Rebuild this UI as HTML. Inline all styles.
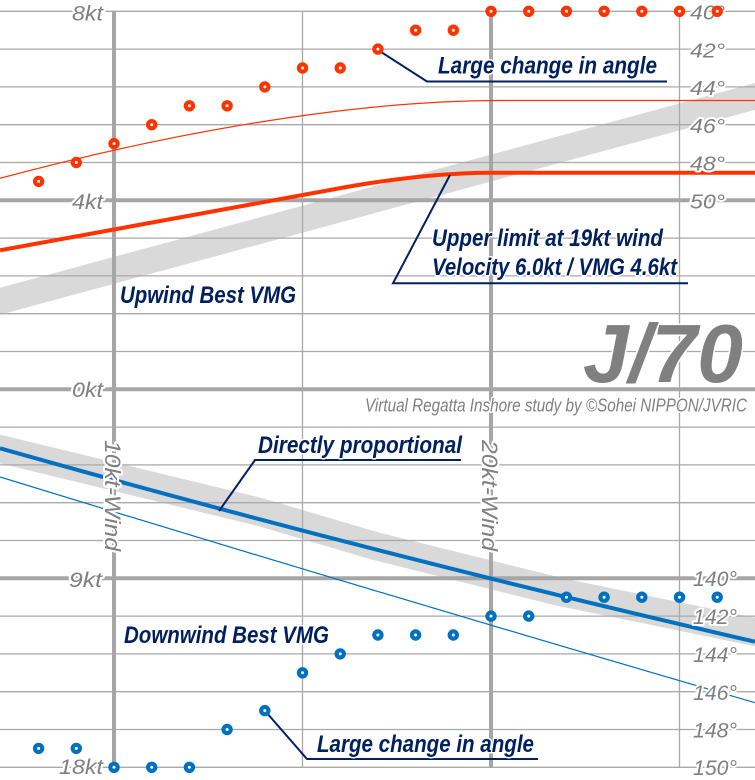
<!DOCTYPE html>
<html>
<head>
<meta charset="utf-8">
<style>
  html, body { margin: 0; padding: 0; background: #ffffff; }
  body { width: 755px; height: 780px; overflow: hidden; }
  svg { display: block; }
  .ax { font-family: "Liberation Sans", sans-serif; font-style: italic; fill: #808080;
        stroke: #ffffff; stroke-width: 4; paint-order: stroke; stroke-linejoin: round; }
  .an { font-family: "Liberation Sans", sans-serif; font-style: italic; font-weight: bold; fill: #002060;
        stroke: #ffffff; stroke-width: 3; paint-order: stroke; stroke-linejoin: round; }
</style>
</head>
<body>
<svg width="755" height="780" viewBox="0 0 755 780" xmlns="http://www.w3.org/2000/svg">
  <rect x="0" y="0" width="755" height="780" fill="#ffffff"/>

  <!-- grey reference bands -->
  <line x1="-5" y1="302.6" x2="760" y2="95.1" stroke="#d9d9d9" stroke-width="26"/>
  <path d="M-5,447.8 L260,512 L375,546 L560,592 L760,633" fill="none" stroke="#d9d9d9" stroke-width="28" stroke-linejoin="round"/>

  <!-- horizontal grid -->
  <g stroke="#a9a9a9" stroke-width="1.3">
    <line x1="0" y1="11.3" x2="755" y2="11.3"/>
    <line x1="0" y1="49.1" x2="755" y2="49.1"/>
    <line x1="0" y1="86.9" x2="755" y2="86.9"/>
    <line x1="0" y1="124.7" x2="755" y2="124.7"/>
    <line x1="0" y1="162.5" x2="755" y2="162.5"/>
    <line x1="0" y1="238.1" x2="755" y2="238.1"/>
    <line x1="0" y1="275.9" x2="755" y2="275.9"/>
    <line x1="0" y1="313.7" x2="755" y2="313.7"/>
    <line x1="0" y1="351.5" x2="755" y2="351.5"/>
    <line x1="0" y1="427.1" x2="755" y2="427.1"/>
    <line x1="0" y1="464.9" x2="755" y2="464.9"/>
    <line x1="0" y1="502.7" x2="755" y2="502.7"/>
    <line x1="0" y1="540.5" x2="755" y2="540.5"/>
    <line x1="0" y1="616.1" x2="755" y2="616.1"/>
    <line x1="0" y1="653.9" x2="755" y2="653.9"/>
    <line x1="0" y1="691.7" x2="755" y2="691.7"/>
    <line x1="0" y1="729.5" x2="755" y2="729.5"/>
    <line x1="0" y1="767.3" x2="755" y2="767.3"/>
  </g>
  <g stroke="#a6a6a6" stroke-width="4">
    <line x1="0" y1="200.3" x2="755" y2="200.3"/>
    <line x1="0" y1="389.3" x2="755" y2="389.3"/>
    <line x1="0" y1="578.3" x2="755" y2="578.3"/>
  </g>
  <!-- vertical grid -->
  <g stroke="#a9a9a9" stroke-width="1.3">
    <line x1="302.5" y1="11.3" x2="302.5" y2="767.3"/>
    <line x1="679.5" y1="11.3" x2="679.5" y2="767.3"/>
  </g>
  <g stroke="#a6a6a6" stroke-width="4">
    <line x1="114" y1="11.3" x2="114" y2="767.3"/>
    <line x1="491" y1="11.3" x2="491" y2="767.3"/>
  </g>

  <!-- upwind series -->
  <path d="M0,178.3 C150,138 340,100.5 500,100.5 L755,100.5" fill="none" stroke="#ff3300" stroke-width="1.2"/>
  <path d="M0,250.3 L330,190 Q420,173 490,172.7 L755,172.7" fill="none" stroke="#ff3300" stroke-width="4"/>

  <!-- downwind series -->
  <path d="M0,477 Q378,593 755,702.7" fill="none" stroke="#0070c0" stroke-width="1.2"/>
  <path d="M0,448.3 Q378,555 755,641.7" fill="none" stroke="#0070c0" stroke-width="4"/>

  <!-- axis labels left -->
  <text class="ax" x="72" y="20.7" font-size="21" textLength="31" lengthAdjust="spacingAndGlyphs">8kt</text>
  <text class="ax" x="72" y="209" font-size="21" textLength="31" lengthAdjust="spacingAndGlyphs">4kt</text>
  <text class="ax" x="72" y="397" font-size="21" textLength="31" lengthAdjust="spacingAndGlyphs">0kt</text>
  <text class="ax" x="69" y="587" font-size="21" textLength="33" lengthAdjust="spacingAndGlyphs">9kt</text>
  <text class="ax" x="59" y="774" font-size="21" textLength="44" lengthAdjust="spacingAndGlyphs">18kt</text>

  <!-- axis labels right top -->
  <text class="ax" x="690" y="19.5" font-size="20" textLength="35" lengthAdjust="spacingAndGlyphs">40°</text>
  <text class="ax" x="690" y="57.3" font-size="20" textLength="35" lengthAdjust="spacingAndGlyphs">42°</text>
  <text class="ax" x="690" y="95.1" font-size="20" textLength="35" lengthAdjust="spacingAndGlyphs">44°</text>
  <text class="ax" x="690" y="132.9" font-size="20" textLength="35" lengthAdjust="spacingAndGlyphs">46°</text>
  <text class="ax" x="690" y="170.7" font-size="20" textLength="35" lengthAdjust="spacingAndGlyphs">48°</text>
  <text class="ax" x="690" y="208.5" font-size="20" textLength="35" lengthAdjust="spacingAndGlyphs">50°</text>

  <!-- axis labels right bottom -->
  <text class="ax" x="693" y="586" font-size="21" textLength="44" lengthAdjust="spacingAndGlyphs">140°</text>
  <text class="ax" x="693" y="624" font-size="21" textLength="44" lengthAdjust="spacingAndGlyphs">142°</text>
  <text class="ax" x="693" y="662" font-size="21" textLength="44" lengthAdjust="spacingAndGlyphs">144°</text>
  <text class="ax" x="693" y="700" font-size="21" textLength="44" lengthAdjust="spacingAndGlyphs">146°</text>
  <text class="ax" x="693" y="737.5" font-size="21" textLength="44" lengthAdjust="spacingAndGlyphs">148°</text>
  <text class="ax" x="693" y="775" font-size="21" textLength="44" lengthAdjust="spacingAndGlyphs">150°</text>

  <!-- rotated wind labels -->
  <text class="ax" transform="translate(105,440) rotate(90)" x="0" y="0" font-size="22" textLength="111" lengthAdjust="spacingAndGlyphs">10kt-Wind</text>
  <text class="ax" transform="translate(482,440) rotate(90)" x="0" y="0" font-size="22" textLength="111" lengthAdjust="spacingAndGlyphs">20kt-Wind</text>

  <!-- J/70 and credit -->
  <text x="583" y="382" font-family="Liberation Sans, sans-serif" font-style="italic" font-weight="bold" font-size="83" fill="#808080" stroke="#ffffff" stroke-width="3" paint-order="stroke" textLength="160" lengthAdjust="spacingAndGlyphs">J/70</text>
  <text class="ax" x="365" y="411.7" font-size="18" textLength="382" lengthAdjust="spacingAndGlyphs" style="stroke-width:3">Virtual Regatta Inshore study by ©Sohei NIPPON/JVRIC</text>

  <!-- leader lines -->
  <g fill="none" stroke="#002060" stroke-width="2">
    <path d="M378,50 L427,81.5 L667,81.5"/>
    <path d="M450,175 L393,283.3 L688,283.3"/>
    <path d="M219,511 L255,460 L461,460"/>
    <path d="M266,712 L307,759 L538,759"/>
  </g>

  <!-- annotations -->
  <text class="an" x="438" y="73.3" font-size="24" textLength="219" lengthAdjust="spacingAndGlyphs">Large change in angle</text>
  <text class="an" x="432" y="246" font-size="24" textLength="231" lengthAdjust="spacingAndGlyphs">Upper limit at 19kt wind</text>
  <text class="an" x="432" y="275" font-size="24" textLength="245" lengthAdjust="spacingAndGlyphs">Velocity 6.0kt / VMG 4.6kt</text>
  <text class="an" x="120" y="303" font-size="24" textLength="176" lengthAdjust="spacingAndGlyphs">Upwind Best VMG</text>
  <text class="an" x="258" y="453" font-size="24" textLength="204" lengthAdjust="spacingAndGlyphs">Directly proportional</text>
  <text class="an" x="124" y="643" font-size="24" textLength="205" lengthAdjust="spacingAndGlyphs">Downwind Best VMG</text>
  <text class="an" x="317" y="752" font-size="24" textLength="217" lengthAdjust="spacingAndGlyphs">Large change in angle</text>

  <!-- upwind dots -->
  <g fill="#ffffff" stroke="#ff3300" stroke-width="4.2">
    <circle cx="38.6" cy="181.4" r="3.6"/>
    <circle cx="76.3" cy="162.5" r="3.6"/>
    <circle cx="114" cy="143.6" r="3.6"/>
    <circle cx="151.7" cy="124.7" r="3.6"/>
    <circle cx="189.4" cy="105.8" r="3.6"/>
    <circle cx="227.1" cy="105.8" r="3.6"/>
    <circle cx="264.8" cy="86.9" r="3.6"/>
    <circle cx="302.5" cy="68" r="3.6"/>
    <circle cx="340.2" cy="68" r="3.6"/>
    <circle cx="377.9" cy="49.1" r="3.6"/>
    <circle cx="415.6" cy="30.2" r="3.6"/>
    <circle cx="453.3" cy="30.2" r="3.6"/>
    <circle cx="491" cy="11.3" r="3.6"/>
    <circle cx="528.7" cy="11.3" r="3.6"/>
    <circle cx="566.4" cy="11.3" r="3.6"/>
    <circle cx="604.1" cy="11.3" r="3.6"/>
    <circle cx="641.8" cy="11.3" r="3.6"/>
    <circle cx="679.5" cy="11.3" r="3.6"/>
    <circle cx="717.2" cy="11.3" r="3.6"/>
  </g>

  <!-- downwind dots -->
  <g fill="#ffffff" stroke="#0070c0" stroke-width="4.2">
    <circle cx="38.6" cy="748.4" r="3.6"/>
    <circle cx="76.3" cy="748.4" r="3.6"/>
    <circle cx="114" cy="767.3" r="3.6"/>
    <circle cx="151.7" cy="767.3" r="3.6"/>
    <circle cx="189.4" cy="767.3" r="3.6"/>
    <circle cx="227.1" cy="729.5" r="3.6"/>
    <circle cx="264.8" cy="710.6" r="3.6"/>
    <circle cx="302.5" cy="672.8" r="3.6"/>
    <circle cx="340.2" cy="653.9" r="3.6"/>
    <circle cx="377.9" cy="635" r="3.6"/>
    <circle cx="415.6" cy="635" r="3.6"/>
    <circle cx="453.3" cy="635" r="3.6"/>
    <circle cx="491" cy="616.1" r="3.6"/>
    <circle cx="528.7" cy="616.1" r="3.6"/>
    <circle cx="566.4" cy="597.2" r="3.6"/>
    <circle cx="604.1" cy="597.2" r="3.6"/>
    <circle cx="641.8" cy="597.2" r="3.6"/>
    <circle cx="679.5" cy="597.2" r="3.6"/>
    <circle cx="717.2" cy="597.2" r="3.6"/>
  </g>
</svg>
</body>
</html>
